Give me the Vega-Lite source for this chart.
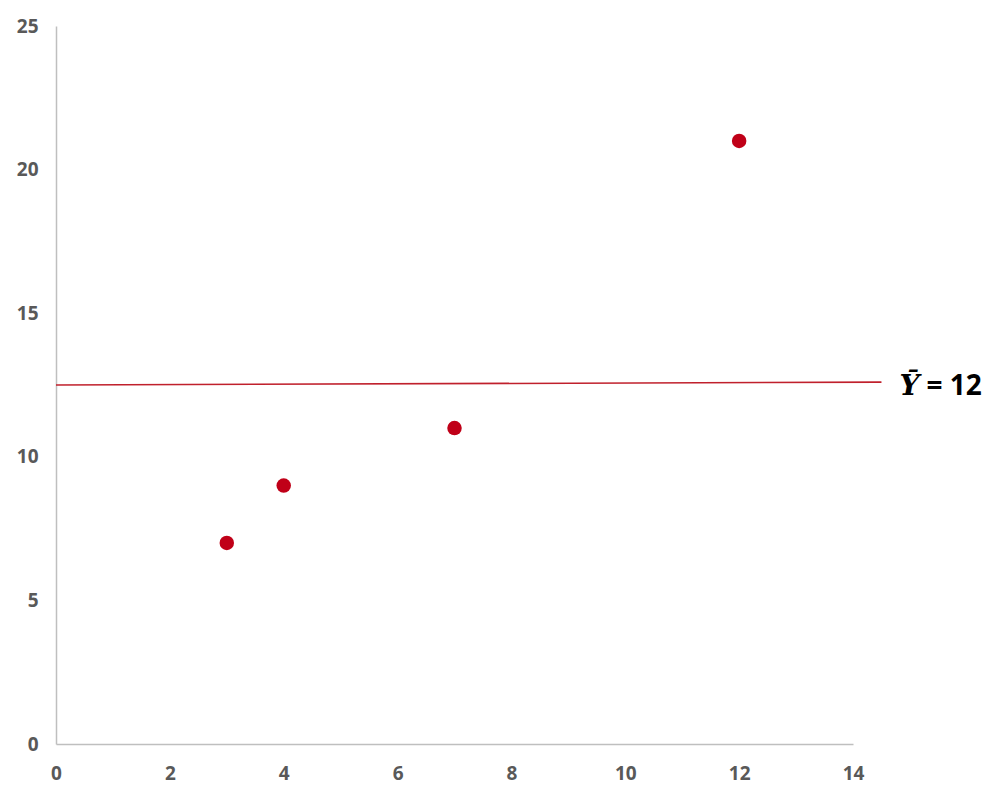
{
  "$schema": "https://vega.github.io/schema/vega-lite/v6.json",
  "width": 797,
  "height": 718,
  "autosize": "none",
  "padding": {"left": 56, "top": 26, "right": 143, "bottom": 58},
  "background": "white",
  "config": {"view": {"stroke": null}},
  "datasets": {
    "points": [{"x": 3, "y": 7}, {"x": 4, "y": 9}, {"x": 7, "y": 11}, {"x": 12, "y": 21}],
    "meanline": [{"x": 0, "y": 12.5}, {"x": 14.5, "y": 12.6}],
    "label": [{"x": 14.5, "y": 12.6, "sym": "Ȳ", "rest": "= 12"}]
  },
  "layer": [
    {
      "data": {"name": "meanline"},
      "mark": {"type": "line", "color": "#C0202C", "strokeWidth": 1.6, "clip": false},
      "encoding": {
        "x": {"field": "x", "type": "quantitative", "scale": {"domain": [0, 14], "nice": false},
          "axis": {"values": [0, 2, 4, 6, 8, 10, 12, 14], "format": "d", "title": null, "grid": false, "ticks": false,
            "labelFlush": false, "domainColor": "#BFBFBF", "domainWidth": 1.5, "labelFont": "Open Sans", "labelFontWeight": "bold",
            "labelFontSize": 19, "labelColor": "#595959", "labelPadding": 20}},
        "y": {"field": "y", "type": "quantitative", "scale": {"domain": [0, 25], "nice": false},
          "axis": {"values": [0, 5, 10, 15, 20, 25], "format": "d", "title": null, "grid": false, "ticks": false,
            "labelFlush": false, "domainColor": "#BFBFBF", "domainWidth": 1.5, "labelFont": "Open Sans", "labelFontWeight": "bold",
            "labelFontSize": 19, "labelColor": "#595959", "labelPadding": 18}}
      }
    },
    {
      "data": {"name": "points"},
      "mark": {"type": "point", "filled": true, "color": "#C00018", "size": 210, "opacity": 1},
      "encoding": {
        "x": {"field": "x", "type": "quantitative"},
        "y": {"field": "y", "type": "quantitative"}
      }
    },
    {
      "data": {"name": "label"},
      "mark": {"type": "text", "align": "left", "baseline": "middle", "dx": 18, "dy": 5, "font": "DejaVu Serif",
        "fontStyle": "italic", "fontWeight": "bold", "fontSize": 28, "color": "#000000", "clip": false},
      "encoding": {
        "x": {"field": "x", "type": "quantitative"},
        "y": {"field": "y", "type": "quantitative"},
        "text": {"field": "sym"}
      }
    },
    {
      "data": {"name": "label"},
      "mark": {"type": "text", "align": "left", "baseline": "middle", "dx": 45, "dy": 5, "font": "Open Sans",
        "fontWeight": "bold", "fontSize": 28, "color": "#000000", "clip": false},
      "encoding": {
        "x": {"field": "x", "type": "quantitative"},
        "y": {"field": "y", "type": "quantitative"},
        "text": {"field": "rest"}
      }
    }
  ]
}
